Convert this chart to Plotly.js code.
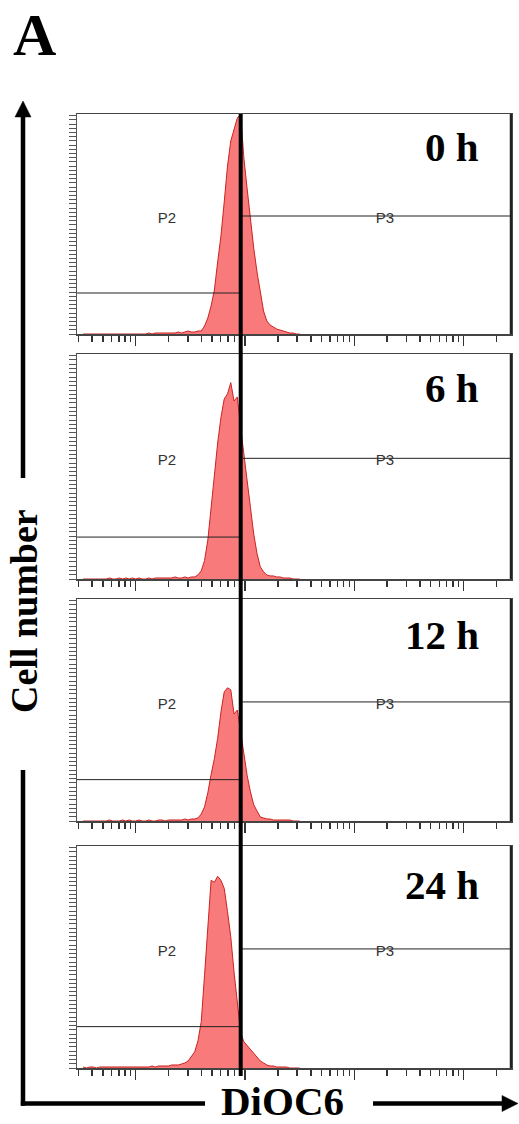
<!DOCTYPE html>
<html><head><meta charset="utf-8">
<script src="https://cdn.plot.ly/plotly-3.0.1.min.js"></script>
<style>html,body{margin:0;padding:0;background:#fff;}#chart{width:519px;height:1124px;}</style>
</head><body><div id="chart"></div>
<script>
// log10 of DiOC6 fluorescence intensity (bin centres)
const binLog = [1.52,1.55,1.58,1.61,1.64,1.67,1.70,1.73,1.76,1.79,1.82,1.85,1.88,1.91,1.94,1.97,
                2.00,2.03,2.06,2.09,2.12,2.15,2.18,2.21,2.24,2.27,
                2.30,2.33,2.36,2.39,2.42,2.45,2.48,2.51,2.54,2.57,
                2.60,2.63,2.66,2.69,2.72,2.75,2.78,2.81,2.84,2.87,
                2.90,2.93,2.96,2.99,3.02,3.05,3.08,3.11,3.14,3.17,
                3.20,3.23,3.26,3.29,3.32,3.35,3.38,3.41,3.44,3.47,3.50];
// cell counts per bin
const counts0h  = [0,0,0,0,0,0,0,0,0,0,0,0,0,0,0,0,
                   0,0,0,0,1,0,1,1,1,1, 1,1,1,2,1,2,3,2,2,3,
                   3,8,16,28,44,72,98,132,168,193, 204,216,220,176,145,112,86,62,42,23,
                   13,9,7,5,4,3,2,1,1,0, 0];
const counts6h  = [0,0,0,0,0,0,0,0,1,0,0,1,0,1,0,1,
                   0,1,0,0,1,0,1,1,1,1, 1,1,2,1,1,2,1,2,2,4,
                   8,18,38,70,103,133,158,176,181,192, 174,178,148,120,95,70,44,25,12,7,
                   4,3,3,2,2,1,1,1,0,0, 0];
const counts12h = [0,0,0,0,0,0,0,0,1,0,0,0,1,0,1,0,
                   0,1,0,0,1,0,0,1,1,0, 1,1,1,1,1,2,1,2,2,3,
                   7,14,28,46,62,82,108,128,132,130, 106,110,88,66,45,29,16,10,4,3,
                   2,2,1,1,1,1,1,1,0,0, 0];
const counts24h = [1,0,1,1,0,1,1,1,1,1,1,1,1,1,1,1,
                   1,1,1,1,1,2,1,2,2,2, 2,3,3,3,4,5,7,11,16,27,
                   46,92,145,186,184,190,186,178,155,130, 95,62,35,26,22,18,14,10,7,5,
                   3,2,2,1,1,1,1,0,0,0, 0];
const timeLabels = ['0 h','6 h','12 h','24 h'];
const gateNames = ['P2','P3'];
const gateSplit = [905, 945];      // DiOC6 where gate P2 ends / P3 begins
const gateLevel = [41, 118];       // drawn height of gate bars (counts)
const gateLabelX = [193, 19100];   // DiOC6 position of the gate names
const gateLabelY = 115;
const markerLine = 914;            // DiOC6 reference line across panels
const xTitle = 'DiOC6', yTitle = 'Cell number', panelTag = 'A';

const W = 519, H = 1124;
const px = v => v / W, py = v => 1 - v / H;
const allCounts = [counts0h, counts6h, counts12h, counts24h];
const panelPx = [[114,334],[354,579],[599,821],[846,1068]];
const labelYDom = [0.85, 0.85, 0.838, 0.826];
const xDom = [px(77), px(511)];
const xRange = [1.463, 5.434];
const majorVals = [100,1000,10000,100000];
const minorVals = [];
[10,100,1000,10000,100000].forEach(d => { for (let k=2;k<=9;k++){ const v=k*d; if (Math.log10(v) < 5.43 && Math.log10(v) > 1.47) minorVals.push(v);} });

const data = [], layout = {
  width: W, height: H, margin:{l:0,r:0,t:0,b:0},
  paper_bgcolor:'#fff', plot_bgcolor:'#fff', showlegend:false,
  shapes: [], annotations: []
};
const fx = binLog.map(v => Math.pow(10, v));

allCounts.forEach((cnt, i) => {
  const s = i === 0 ? '' : String(i+1);
  const xa = 'x'+s, ya = 'y'+s;
  data.push({type:'scatter', mode:'lines', x: fx, y: cnt, xaxis: xa, yaxis: ya,
    line:{shape:'linear', color:'#cc2222', width:1}, fill:'tozeroy', fillcolor:'#f87a7a', hoverinfo:'skip'});
  data.push({type:'scatter', mode:'lines', x:[1, gateSplit[0]], y:[gateLevel[0], gateLevel[0]], xaxis: xa, yaxis: ya,
    line:{color:'#222', width:1}, hoverinfo:'skip'});
  data.push({type:'scatter', mode:'lines', x:[gateSplit[1], 1e7], y:[gateLevel[1], gateLevel[1]], xaxis: xa, yaxis: ya,
    line:{color:'#222', width:1}, hoverinfo:'skip'});
  data.push({type:'scatter', mode:'text', x: gateLabelX, y:[gateLabelY, gateLabelY], text: gateNames,
    xaxis: xa, yaxis: ya, textfont:{family:'Liberation Sans, Arial', size:15, color:'#333'}, hoverinfo:'skip'});
  const dom = [py(panelPx[i][1]), py(panelPx[i][0])];
  layout['xaxis'+s] = {type:'log', domain: xDom, range: xRange, anchor: ya,
    showgrid:false, zeroline:false, showline:true, mirror:true, linecolor:'#444', linewidth:1.5,
    ticks:'outside', tickmode:'array', tickvals: majorVals, ticklen:10, tickwidth:1.5, tickcolor:'#333',
    showticklabels:false, fixedrange:true,
    minor:{ticks:'outside', tickmode:'array', tickvals: minorVals, ticklen:6, tickwidth:1.5, tickcolor:'#333', showgrid:false}};
  layout['yaxis'+s] = {domain: dom, range:[0,220], anchor: xa,
    showgrid:false, zeroline:false, showline:true, mirror:true, linecolor:'#555', linewidth:1.5,
    ticks:'outside', tickmode:'linear', tick0:0, dtick:4.2, ticklen:7, tickwidth:1, tickcolor:'#555',
    showticklabels:false, fixedrange:true};
  // darker right frame edge
  layout.shapes.push({type:'line', xref: xa+' domain', yref: ya+' domain', x0:1, x1:1, y0:0, y1:1,
    line:{color:'#222', width:2.5}});
  layout.annotations.push({xref: xa+' domain', yref: ya+' domain', x:0.93, y:labelYDom[i],
    xanchor:'right', yanchor:'middle', showarrow:false, text:'<b>'+timeLabels[i]+'</b>',
    font:{family:'Liberation Serif, Times New Roman, serif', size:41, color:'#000'}});
});

// reference line across all panels
layout.shapes.push({type:'line', xref:'x', yref:'paper', x0: markerLine, x1: markerLine,
  y0: py(1076), y1: py(114), line:{color:'#000', width:4}});

// big axis arrows
const lw = 4.5, ax = 23, ay = 1103.5;
const ln = (x0,y0,x1,y1) => layout.shapes.push({type:'line', xref:'paper', yref:'paper',
  x0:px(x0), y0:py(y0), x1:px(x1), y1:py(y1), line:{color:'#000', width:lw}});
ln(ax, 114, ax, 478);
ln(ax, 770, ax, ay + 2.2);
ln(ax - 2.2, ay, 205, ay);
ln(373, ay, 505, ay);
const tri = pts => layout.shapes.push({type:'path', xref:'paper', yref:'paper',
  path: 'M' + pts.map(p => px(p[0]) + ',' + py(p[1])).join(' L') + ' Z',
  fillcolor:'#000', line:{color:'#000', width:0.5}});
tri([[ax,101],[ax-8,117],[ax+8,117]]);
tri([[518,ay],[502,ay-8],[502,ay+8]]);

layout.annotations.push({xref:'paper', yref:'paper', x:px(282.5), y:py(1101), xanchor:'center', yanchor:'middle',
  showarrow:false, text:'<b>'+xTitle+'</b>', font:{family:'Liberation Serif, Times New Roman, serif', size:41, color:'#000'}});
layout.annotations.push({xref:'paper', yref:'paper', x:px(24), y:py(611), xanchor:'center', yanchor:'middle',
  textangle:-90, showarrow:false, text:'<b>'+yTitle+'</b>', font:{family:'Liberation Serif, Times New Roman, serif', size:38, color:'#000'}});
layout.annotations.push({xref:'paper', yref:'paper', x:px(34), y:py(35), xanchor:'center', yanchor:'middle',
  showarrow:false, text:'<b>'+panelTag+'</b>', font:{family:'Liberation Serif, Times New Roman, serif', size:60, color:'#000'}});

Plotly.newPlot('chart', data, layout, {staticPlot:true, displayModeBar:false});
</script></body></html>
